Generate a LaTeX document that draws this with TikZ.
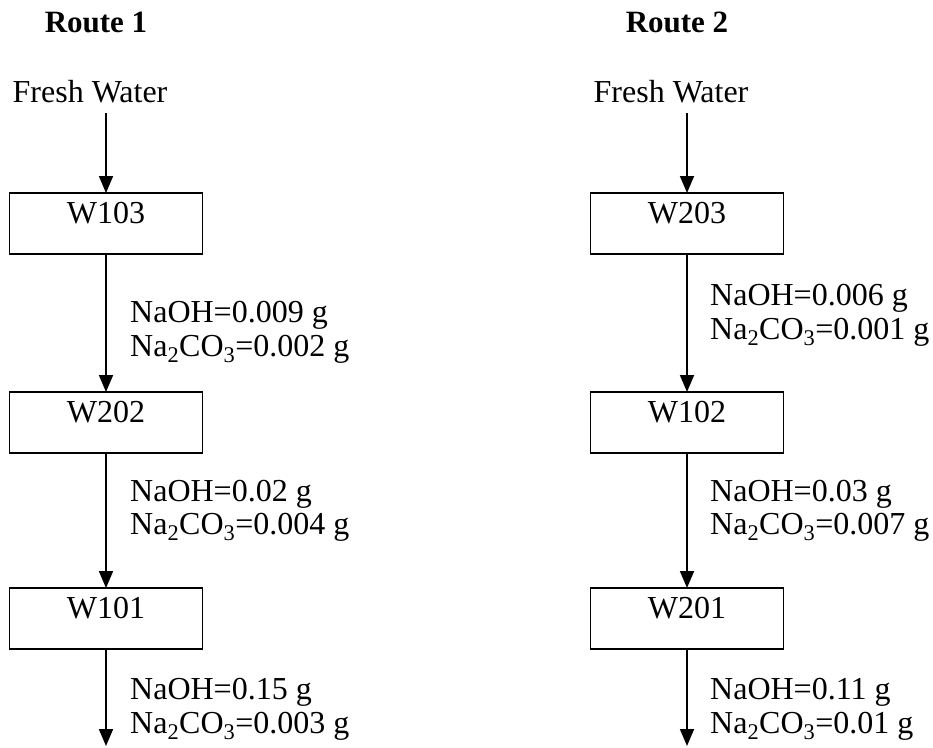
\documentclass[tikz,border=0pt]{standalone}
\usepackage{fontspec}
\setmainfont{Liberation Serif}
\usetikzlibrary{arrows.meta}
\begin{document}
\begin{tikzpicture}[x=1pt,y=-1pt,
  every node/.style={font=\fontsize{32}{34}\selectfont},
  unit/.style={draw, line width=1.8pt, minimum width=193pt, inner xsep=0pt,
    inner ysep=0pt, outer sep=0pt, text height=30pt, text depth=31pt, anchor=north},
  flow/.style={line width=1.8pt, -{Triangle[length=17pt,width=14pt]}},
  title/.style={font=\fontsize{31}{34}\selectfont\bfseries, anchor=base, inner sep=0pt},
  feed/.style={anchor=base, inner xsep=0pt, inner ysep=11pt, outer sep=0pt, text depth=0pt},
  dose/.style={anchor=base west, inner sep=0pt}]
  \useasboundingbox (0,0) rectangle (933,747);

  % route headings
  \node[title] (t1) at (96,32) {Route 1};
  \node[title] (t2) at (677,32) {Route 2};

  % water sources
  \node[feed] (fw1) at (90,102) {Fresh Water};
  \node[feed] (fw2) at (671,102) {Fresh Water};

  % washing units, route 1
  \node[unit] (w103) at (106,193) {W103};
  \node[unit] (w202) at (106,392) {W202};
  \node[unit] (w101) at (106,588) {W101};
  % washing units, route 2
  \node[unit] (w203) at (687,193) {W203};
  \node[unit] (w102) at (687,392) {W102};
  \node[unit] (w201) at (687,588) {W201};

  % outlets
  \coordinate (out1) at (106,746);
  \coordinate (out2) at (687,746);

  % flows
  \draw[flow] (fw1.south -| w103.north) -- (w103.north);
  \draw[flow] (w103.south) -- (w202.north);
  \draw[flow] (w202.south) -- (w101.north);
  \draw[flow] (w101.south) -- (out1);
  \draw[flow] (fw2.south -| w203.north) -- (w203.north);
  \draw[flow] (w203.south) -- (w102.north);
  \draw[flow] (w102.south) -- (w201.north);
  \draw[flow] (w201.south) -- (out2);

  % chemical loads, route 1
  \node[dose] (a11) at (130,322) {NaOH=0.009 g};
  \node[dose] (b11) at (130,356) {Na\textsubscript{2}CO\textsubscript{3}=0.002 g};
  \node[dose] (a12) at (130,501) {NaOH=0.02 g};
  \node[dose] (b12) at (130,534) {Na\textsubscript{2}CO\textsubscript{3}=0.004 g};
  \node[dose] (a13) at (130,699) {NaOH=0.15 g};
  \node[dose] (b13) at (130,733) {Na\textsubscript{2}CO\textsubscript{3}=0.003 g};

  % chemical loads, route 2
  \node[dose] (a21) at (710,305) {NaOH=0.006 g};
  \node[dose] (b21) at (710,339) {Na\textsubscript{2}CO\textsubscript{3}=0.001 g};
  \node[dose] (a22) at (710,501) {NaOH=0.03 g};
  \node[dose] (b22) at (710,534) {Na\textsubscript{2}CO\textsubscript{3}=0.007 g};
  \node[dose] (a23) at (710,699) {NaOH=0.11 g};
  \node[dose] (b23) at (710,733) {Na\textsubscript{2}CO\textsubscript{3}=0.01 g};
\end{tikzpicture}
\end{document}
